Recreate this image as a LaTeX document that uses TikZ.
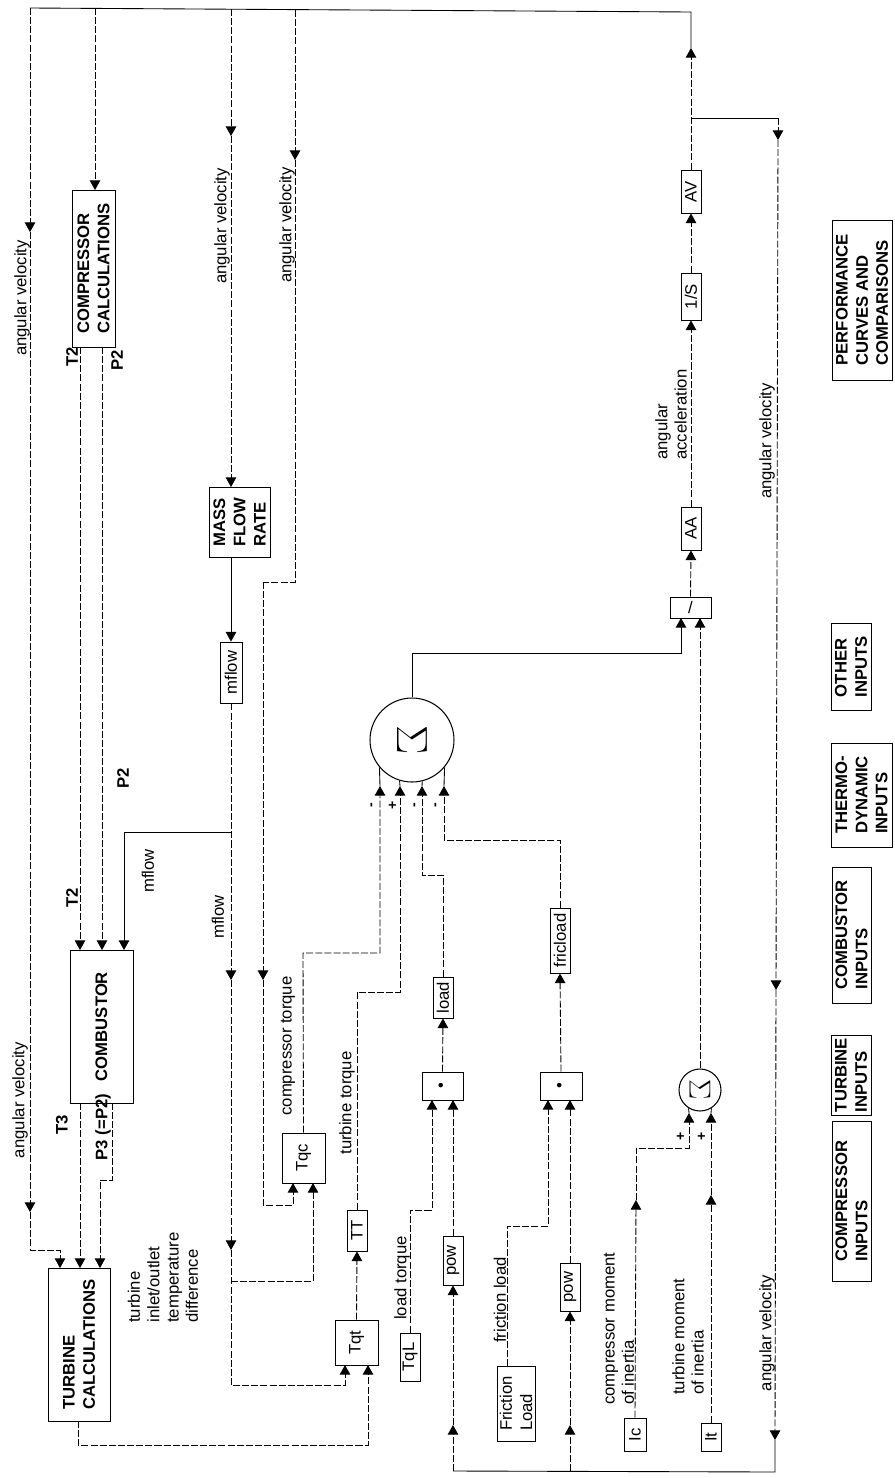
\documentclass[tikz,border=0pt]{standalone}
\usepackage{fontspec}
\setmainfont{Liberation Sans}
\usetikzlibrary{arrows.meta,fit}
\tikzset{
  blk/.style={draw, line width=0.5pt, inner sep=0pt},
  btxt/.style={rotate=90, inner sep=0pt, align=left, font=\bfseries\fontsize{9.5}{11.5}\selectfont},
  gtxt/.style={rotate=90, inner sep=0pt, align=left, font=\fontsize{9.5}{11.5}\selectfont},
  lbl/.style={rotate=90, inner sep=0pt, align=left, font=\fontsize{9.5}{11}\selectfont},
  blbl/.style={lbl, font=\bfseries\fontsize{9.5}{11}\selectfont},
  wire/.style={line width=0.5pt},
  dwire/.style={line width=0.5pt, dash pattern=on 4pt off 1.2pt},
  arr/.style={-{Triangle[width=6pt,length=5.5pt]}},
  sgm/.style={circle, draw, line width=0.6pt, inner sep=0pt},
}
\begin{document}
\begin{tikzpicture}[x=0.02cm, y=-0.02cm]
\useasboundingbox (0,0) rectangle (894,1478);

% blocks
\node[blk, fit={(72,190)(115,347)}] (comp) {};
\node[btxt] (compt) at (comp) {COMPRESSOR\\CALCULATIONS};
\node[blk, fit={(70,950)(133,1103)}] (comb) {};
\node[btxt] (combt) at (comb) {COMBUSTOR};
\node[blk, fit={(48,1268)(110,1421)}] (turb) {};
\node[btxt] (turbt) at (turb) {TURBINE\\CALCULATIONS};
\node[blk, fit={(209,487)(270,557)}] (mfr) {};
\node[btxt] (mfrt) at (mfr) {MASS\\FLOW\\RATE};
\node[blk, fit={(220,642)(242,703)}] (mflow) {};
\node[gtxt] (mflowt) at (mflow) {mflow};
\node[blk, fit={(282,1133)(325,1183)}] (tqc) {};
\node[gtxt] (tqct) at (tqc) {Tqc};
\node[blk, fit={(335,1320)(378,1365)}] (tqt) {};
\node[gtxt] (tqtt) at (tqt) {Tqt};
\node[blk, fit={(347,1210)(367,1251)}] (tt) {};
\node[gtxt] (ttt) at (tt) {TT};
\node[blk, fit={(400,1333)(420,1381)}] (tql) {};
\node[gtxt] (tqlt) at (tql) {TqL};
\node[blk, fit={(443,1236)(463,1285)}] (powa) {};
\node[gtxt] (powat) at (powa) {pow};
\node[blk, fit={(422,1072)(463,1100)}] (proda) {};
\node[gtxt] (prodat) at (proda) {\textbullet};
\node[blk, fit={(433,977)(453,1018)}] (load) {};
\node[gtxt] (loadt) at (load) {load};
\node[blk, fit={(497,1366)(535,1441)}] (fric) {};
\node[gtxt] (frict) at (fric) {Friction\\Load};
\node[blk, fit={(560,1263)(580,1311)}] (powb) {};
\node[gtxt] (powbt) at (powb) {pow};
\node[blk, fit={(540,1072)(582,1100)}] (prodb) {};
\node[gtxt] (prodbt) at (prodb) {\textbullet};
\node[blk, fit={(550,908)(570,973)}] (fricl) {};
\node[gtxt] (friclt) at (fricl) {fricload};
\node[blk, fit={(670,597)(711,618)}] (div) {};
\node[gtxt, rotate=-90] (divt) at (div) {/};
\node[blk, fit={(681,507)(701,550)}] (aa) {};
\node[gtxt] (aat) at (aa) {AA};
\node[blk, fit={(681,273)(701,320)}] (ints) {};
\node[gtxt] (intst) at (ints) {1/S};
\node[blk, fit={(681,170)(701,213)}] (av) {};
\node[gtxt] (avt) at (av) {AV};
\node[blk, fit={(624,1418)(646,1451)}] (ic) {};
\node[gtxt] (ict) at (ic) {Ic};
\node[blk, fit={(701,1423)(721,1451)}] (it) {};
\node[gtxt] (itt) at (it) {It};
\node[sgm, minimum size=1.68cm] (sum) at (412,740) {};
\node[rotate=-90, font=\fontsize{34}{34}\selectfont] (sig) at (sum) {$\Sigma$};
\node[sgm, minimum size=0.84cm] (sum2) at (700,1090) {};
\node[rotate=-90, font=\fontsize{17}{17}\selectfont] (sig2) at (sum2) {$\Sigma$};

% legend
\node[blk, fit={(832,220)(892,380)}] (perf) {};
\node[btxt] (perft) at (perf) {PERFORMANCE\\CURVES AND\\COMPARISONS};
\node[blk, fit={(831,623)(871,710)}] (other) {};
\node[btxt] (othert) at (other) {OTHER\\INPUTS};
\node[blk, fit={(831,743)(892,847)}] (thermo) {};
\node[btxt] (thermot) at (thermo) {THERMO-\\DYNAMIC\\INPUTS};
\node[blk, fit={(832,867)(871,1003)}] (combin) {};
\node[btxt] (combint) at (combin) {COMBUSTOR\\INPUTS};
\node[blk, fit={(831,1035)(871,1115)}] (turbin) {};
\node[btxt] (turbint) at (turbin) {TURBINE\\INPUTS};
\node[blk, fit={(832,1121)(871,1281)}] (compin) {};
\node[btxt] (compint) at (compin) {COMPRESSOR\\INPUTS};

% ports and bends
\foreach \n/\x/\y in {a0/691/48, a1/691/12, a2/691/118, a3/778/118, a4/778/140,
  a5/776/990, a6/775/1440, a7/775/1472, b1/453/1471, b2/453/1425, b3/570/1471, b4/570/1425,
  t0/30/8, t1/95/8, t2/231/9, t3/295/10, v1/30/232, v2/30/1212, v3/30/1250, turbA/60/1268,
  compA/95/190, v5/231/136, mfrA/231/487, mfrO/231/557,
  v6/295/160, v7/295/582, v8/263/582, v9/263/980, v10/263/1205, tqcA/293/1183, tqcB/313/1183,
  compT/80/347, compP/102/347, combA/80/950, combB/102/950, combC/124/950,
  m1/231/980, m2/231/1250, m3/231/1385, m4/231/832, m5/231/1281, tqtA/345/1365, tqtB/368/1365,
  combT/80/1103, combP/112/1103, p1/112/1180, p2/100/1180, turbB/80/1268, turbC/100/1268,
  turbO/78/1421, q1/78/1445, q2/303/953, s1/380/786, q3/357/992, s2/400/786,
  q4/410/1210, proA/432/1100, proB/453/1100, q6/443/875, s3/422/786,
  fricO/507/1366, q7/507/1226, proC/548/1100, proD/570/1100, q8/560/840, s4/444/786,
  q9/412/653, divA/681/618, divB/700/618, c1/636/1200, q10/636/1148, sa/689/1113,
  c2/711/1195, sb/711/1113}
  \coordinate (\n) at (\x,\y);

% angular velocity loop
\draw[dwire,arr] (av.north) -- (a0);
\draw[wire] (a0) -- (a1) -- (t0);
\draw[wire] (a2) -- (a3);
\draw[dwire,arr] (a3) -- (a4);
\draw[dwire,arr] (a4) -- (a5);
\draw[dwire,arr] (a5) -- (a6);
\draw[wire] (a6) -- (a7) -- (b1);
\draw[dwire,arr] (t0) -- (v1);
\draw[dwire,arr] (v1) -- (v2);
\draw[dwire,arr] (v2) -- (v3) -| (turbA);
\draw[dwire,arr] (t1) -- (compA);
\draw[dwire,arr] (t2) -- (v5);
\draw[dwire,arr] (v5) -- (mfrA);
\draw[dwire,arr] (t3) -- (v6);
\draw[dwire] (v6) -- (v7) -- (v8);
\draw[dwire,arr] (v8) -- (v9);
\draw[dwire,arr] (v9) -- (v10) -| (tqcA);

% thermodynamics
\draw[dwire,arr] (compT) -- (combA);
\draw[dwire,arr] (compP) -- (combB);
\draw[wire,arr] (mfrO) -- (mflow.north);
\draw[dwire,arr] (mflow.south) -- (m1);
\draw[dwire,arr] (m1) -- (m2);
\draw[dwire,arr] (m2) -- (m3) -| (tqtA);
\draw[wire,arr] (m4) -| (combC);
\draw[dwire,arr] (m5) -| (tqcB);
\draw[dwire,arr] (combT) -- (turbB);
\draw[dwire,arr] (combP) -- (p1) -- (p2) -- (turbC);
\draw[dwire,arr] (turbO) -- (q1) -| (tqtB);

% torques
\draw[dwire,arr] (tqc.north) -- (q2) -| (s1);
\draw[dwire,arr] (tqt.north) -- (tt.south);
\draw[dwire,arr] (tt.north) -- (q3) -| (s2);
\draw[dwire,arr] (tql.north) -- (q4) -| (proA);
\draw[dwire,arr] (powa.north) -- (proB);
\draw[dwire,arr] (proda.north) -- (load.south);
\draw[dwire,arr] (load.north) -- (q6) -| (s3);
\draw[dwire,arr] (fricO) -- (q7) -| (proC);
\draw[dwire,arr] (powb.north) -- (proD);
\draw[dwire,arr] (prodb.north) -- (fricl.south);
\draw[dwire,arr] (fricl.north) -- (q8) -| (s4);
\draw[dwire,arr] (b1) -- (b2);
\draw[dwire,arr] (b2) -- (powa.south);
\draw[dwire,arr] (b3) -- (b4);
\draw[dwire,arr] (b4) -- (powb.south);
\foreach \p/\a in {s1/220, s2/253, s3/284, s4/320} \draw[wire] (\p) -- (sum.\a);

% acceleration
\draw[wire,arr] (sum.north) -- (q9) -| (divA);
\draw[dwire,arr] (sum2.north) -- (divB);
\draw[dwire,arr] (div.north) -- (aa.south);
\draw[dwire,arr] (aa.north) -- (ints.south);
\draw[dwire,arr] (ints.north) -- (av.south);
\draw[dwire,arr] (ic.north) -- (c1);
\draw[dwire,arr] (c1) -- (q10) -| (sa);
\draw[dwire,arr] (it.north) -- (c2);
\draw[dwire,arr] (c2) -- (sb);
\foreach \p/\a in {sa/238, sb/302} \draw[wire] (\p) -- (sum2.\a);

% labels
\node[lbl] (avl1) at (22,298) {angular velocity};
\node[lbl] (avl2) at (222,226) {angular velocity};
\node[lbl] (avl3) at (287,225) {angular velocity};
\node[lbl] (avl4) at (20,1100) {angular velocity};
\node[lbl] (avl5) at (767,441) {angular velocity};
\node[lbl] (avl6) at (767,1333) {angular velocity};
\node[blbl] (t2a) at (72,357) {T2};
\node[blbl] (p2a) at (117,360) {P2};
\node[blbl] (t2b) at (72,898) {T2};
\node[blbl] (p2b) at (123,778) {P2};
\node[lbl] (mfl1) at (148,871) {mflow};
\node[lbl] (mfl2) at (218,917) {mflow};
\node[blbl] (t3) at (62,1125) {T3};
\node[blbl] (p3) at (103,1127) {P3 (=P2)};
\node[lbl, anchor=west] (dtl) at (163,1323) {turbine\\inlet/outlet\\temperature\\difference};
\node[lbl] (ctq) at (288,1046) {compressor torque};
\node[lbl] (ttq) at (347,1103) {turbine torque};
\node[lbl] (ltq) at (402,1278) {load torque};
\node[lbl] (flq) at (500,1300) {friction load};
\node[lbl, anchor=west] (acc) at (671,460) {angular\\acceleration};
\node[lbl, anchor=west] (cmi) at (619,1405) {compressor moment\\of inertia};
\node[lbl, anchor=west] (tmi) at (688,1395) {turbine moment\\of inertia};
\foreach \n/\x/\s in {g1/373/-, g2/393/+, g3/416/-, g4/437/-}
  \node[lbl, font=\bfseries\fontsize{8}{8}\selectfont] (\n) at (\x,805) {\s};
\node[lbl, font=\bfseries\fontsize{8}{8}\selectfont] (g5) at (681,1136) {+};
\node[lbl, font=\bfseries\fontsize{8}{8}\selectfont] (g6) at (702,1136) {+};
\end{tikzpicture}
\end{document}
